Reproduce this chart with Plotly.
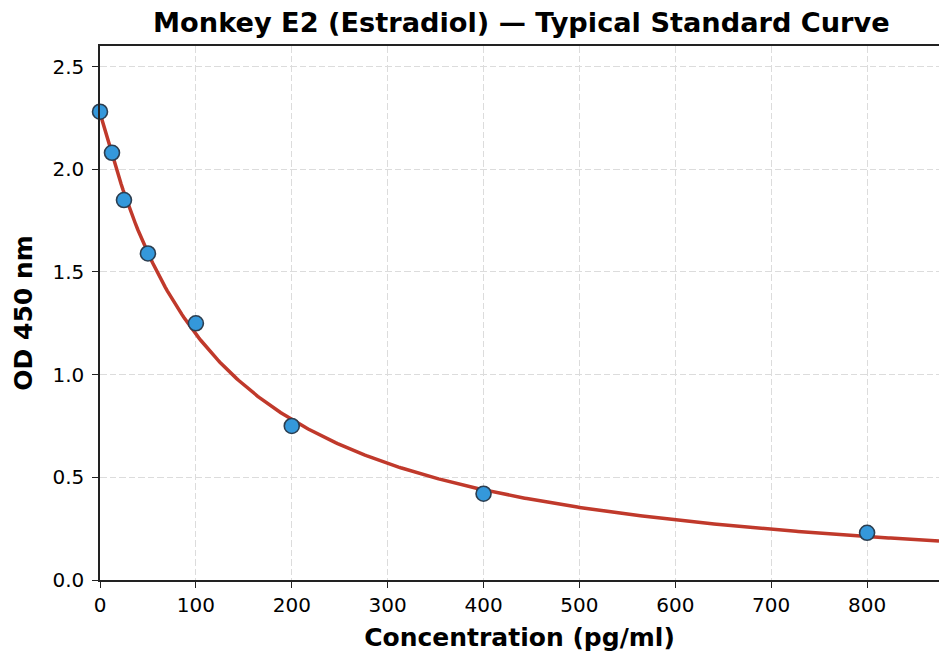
import numpy as np
import plotly.graph_objects as go

# Standard points
conc = [0, 12.5, 25, 50, 100, 200, 400, 800]
od = [2.28, 2.08, 1.85, 1.59, 1.25, 0.75, 0.42, 0.23]

x_ticks = [0, 100, 200, 300, 400, 500, 600, 700, 800]
y_ticks = [0.0, 0.5, 1.0, 1.5, 2.0, 2.5]


def four_pl(x, a, b, c, d):
    x = np.asarray(x, dtype=float)
    return d + (a - d) / (1.0 + (x / c) ** b)


def fit_4pl(x, y, p0):
    x = np.asarray(x, float)
    y = np.asarray(y, float)
    p = np.array(p0, float)
    lam = 1e-2
    def resid(p):
        return y - four_pl(x, *p)
    r = resid(p)
    cost = r @ r
    for _ in range(500):
        J = np.zeros((len(x), 4))
        for k in range(4):
            h = 1e-6 * max(abs(p[k]), 1e-3)
            pp = p.copy(); pp[k] += h
            J[:, k] = (four_pl(x, *pp) - four_pl(x, *p)) / h
        A = J.T @ J
        g = J.T @ r
        step = np.linalg.solve(A + lam * np.diag(np.diag(A) + 1e-12), g)
        pn = p + step
        if pn[2] <= 0 or pn[1] <= 0:
            lam *= 10
            continue
        rn = resid(pn)
        cn = rn @ rn
        if cn < cost:
            p, r, cost = pn, rn, cn
            lam = max(lam / 3, 1e-9)
        else:
            lam *= 5
    return p


params = fit_4pl(conc, od, [2.28, 1.0, 120.0, 0.0])
x_fit = np.linspace(0, 875, 400)
y_fit = four_pl(x_fit, *params)

fig = go.Figure()
fig.add_trace(go.Scatter(
    x=x_fit, y=y_fit, mode="lines",
    line=dict(color="#c0392b", width=3.5),
    hoverinfo="skip", showlegend=False,
))
fig.add_trace(go.Scatter(
    x=conc, y=od, mode="markers",
    marker=dict(size=15, color="#3498db", line=dict(color="#2c3e50", width=1.6)),
    cliponaxis=False, showlegend=False,
))

font_family = "DejaVu Sans"
grid_dash = "6.5px,3px"
fig.update_layout(
    width=939, height=652,
    margin=dict(l=100, r=0, t=46, b=72),
    plot_bgcolor="white", paper_bgcolor="white",
    title=dict(
        text="Monkey E2 (Estradiol) — Typical Standard Curve",
        font=dict(family=font_family, size=27.2, color="black", weight="bold"),
        x=(100 + 939) / 2 / 939 + 0.002, xanchor="center",
        y=1 - 22 / 652, yanchor="middle",
    ),
    font=dict(family=font_family, color="black"),
)
fig.update_xaxes(
    range=[0, 875],
    tickvals=x_ticks, ticktext=[str(v) for v in x_ticks],
    tickfont=dict(size=20, family=font_family, color="black"),
    title=dict(text="Concentration (pg/ml)",
               font=dict(size=25, family=font_family, color="black", weight="bold"),
               standoff=13),
    showline=True, linecolor="#222222", linewidth=1.5, mirror=True,
    ticks="outside", ticklen=6, tickcolor="#222222", tickwidth=1.3,
    showgrid=True, gridcolor="#dcdcdc", gridwidth=1.3, griddash=grid_dash,
    zeroline=False,
)
fig.update_yaxes(
    range=[0, 2.6],
    tickvals=y_ticks, ticktext=[f"{v:.1f}" for v in y_ticks],
    tickfont=dict(size=20, family=font_family, color="black"),
    ticklabelstandoff=4,
    title=dict(text="OD 450 nm",
               font=dict(size=25, family=font_family, color="black", weight="bold"),
               standoff=13),
    showline=True, linecolor="#222222", linewidth=1.5, mirror=False,
    ticks="outside", ticklen=6, tickcolor="#222222", tickwidth=1.3,
    showgrid=True, gridcolor="#dcdcdc", gridwidth=1.3, griddash=grid_dash,
    zeroline=False,
)

fig.write_html(
    "out.html",
    config={"displayModeBar": False},
    post_script="document.body.style.margin='0';document.body.style.overflow='hidden';",
)
